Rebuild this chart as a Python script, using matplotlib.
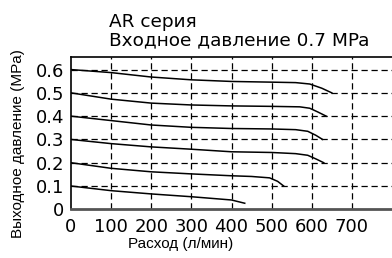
import matplotlib
matplotlib.use('Agg')
import matplotlib.pyplot as plt

plt.rcParams['font.family'] = ['Liberation Sans', 'DejaVu Sans']

# flow (l/min) and outlet pressure (MPa) for each set pressure
flow_06 = [0, 100, 200, 300, 400, 500, 560, 595, 625, 650]
pres_06 = [0.6, 0.587, 0.568, 0.556, 0.549, 0.546, 0.544, 0.538, 0.52, 0.5]
flow_05 = [0, 100, 200, 300, 400, 500, 570, 595, 615, 636]
pres_05 = [0.5, 0.473, 0.456, 0.448, 0.444, 0.442, 0.44, 0.434, 0.418, 0.4]
flow_04 = [0, 100, 200, 300, 400, 500, 560, 590, 610, 627]
pres_04 = [0.4, 0.381, 0.362, 0.352, 0.347, 0.345, 0.342, 0.335, 0.318, 0.3]
flow_03 = [0, 100, 200, 300, 400, 500, 560, 590, 612, 630]
pres_03 = [0.3, 0.282, 0.268, 0.258, 0.247, 0.244, 0.239, 0.232, 0.215, 0.2]
flow_02 = [0, 100, 200, 300, 400, 450, 495, 515, 530]
pres_02 = [0.2, 0.176, 0.161, 0.152, 0.144, 0.141, 0.135, 0.12, 0.1]
flow_01 = [0, 100, 200, 300, 400, 433]
pres_01 = [0.1, 0.08, 0.066, 0.054, 0.04, 0.026]

xticks = [0, 100, 200, 300, 400, 500, 600, 700]
yticks = [0, 0.1, 0.2, 0.3, 0.4, 0.5, 0.6]
ytick_labels = ['0', '0.1', '0.2', '0.3', '0.4', '0.5', '0.6']

wide = ['DejaVu Sans']

fig = plt.figure(figsize=(3.92, 2.58), dpi=100)
ax = fig.add_axes([71/392, 1-209.3/258, 1-71/392, (209.3-57)/258])

for fx, py in [(flow_06, pres_06), (flow_05, pres_05), (flow_04, pres_04),
               (flow_03, pres_03), (flow_02, pres_02), (flow_01, pres_01)]:
	ax.plot(fx, py, 'k-', linewidth=1.1)

ax.set_xlim(0, 800)
ax.set_ylim(0, 0.654)
ax.set_xticks(xticks)
ax.set_xticklabels([str(v) for v in xticks], family=wide, fontsize=13)
ax.set_yticks(yticks)
ax.set_yticklabels(ytick_labels, family=wide, fontsize=13)
ax.tick_params(length=0)
ax.tick_params(axis='x', pad=6)
ax.tick_params(axis='y', pad=5)

for v in xticks[1:]:
	ax.axvline(v, color='k', linestyle=(0, (5, 3)), linewidth=0.9)
for v in yticks[1:]:
	ax.axhline(v, color='k', linestyle=(0, (5, 3)), linewidth=0.9)

ax.spines['right'].set_visible(False)
for s in ['left', 'top']:
	ax.spines[s].set_linewidth(1.2)
ax.spines['bottom'].set_linewidth(2)
ax.spines['bottom'].set_color('#555555')

fig.text(109/392, 1-27/258, 'AR серия', family=wide, fontsize=13.3, ha='left', va='baseline')
fig.text(109/392, 1-45.5/258, 'Входное давление 0.7 MPa', family=wide, fontsize=13.3,
         ha='left', va='baseline')
fig.text(18/392, 1-144/258, 'Выходное давление (MPa)', fontsize=11, rotation=90,
         ha='center', va='center')
fig.text(181/392, 1-247.7/258, 'Расход (л/мин)', fontsize=11, ha='center', va='baseline')

fig.savefig('out.png', dpi=100)
